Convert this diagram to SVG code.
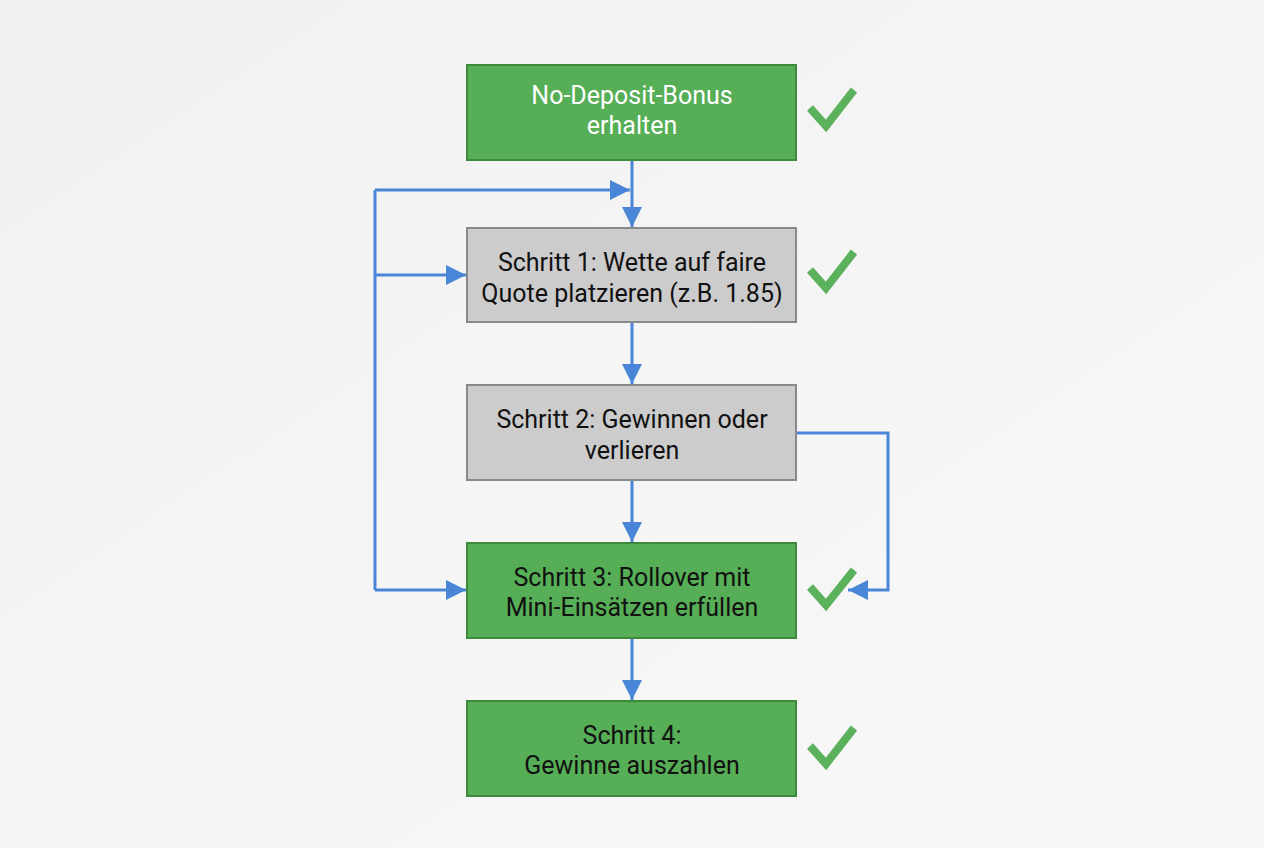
<svg xmlns="http://www.w3.org/2000/svg" width="1264" height="848" viewBox="0 0 1264 848">
<defs>
<linearGradient id="bg" x1="0" y1="0" x2="1" y2="1">
<stop offset="0" stop-color="#f0f0f0"/>
<stop offset="0.5" stop-color="#f5f5f5"/>
<stop offset="1" stop-color="#f8f8f8"/>
</linearGradient>
<marker id="arr" viewBox="0 0 20 20" refX="20" refY="10" markerWidth="20" markerHeight="20" markerUnits="userSpaceOnUse" orient="auto">
<path d="M0,0 L20,10 L0,20 Z" fill="#4a86d8"/>
</marker>
</defs>
<style>
.green{fill:#56ae56;stroke:#3d8a3d;stroke-width:2}
.gray{fill:#cccccc;stroke:#8a8a8a;stroke-width:2}
.t{font-family:Roboto,"Liberation Sans",sans-serif;font-size:25px;text-anchor:middle;fill:#111111}
.tw{fill:#ffffff}
.edge{fill:none;stroke:#4a86d8;stroke-width:3;marker-end:url(#arr)}
.line{fill:none;stroke:#4a86d8;stroke-width:3}
.chk{fill:none;stroke:#5cb25c;stroke-width:8;stroke-linecap:butt;stroke-linejoin:miter}
</style>
<rect width="1264" height="848" fill="url(#bg)"/>
<g id="connectors">
<path class="edge" d="M632,161 V227"/>
<path class="line" d="M375,590 V190"/>
<path class="edge" d="M375,190 H630"/>
<path class="edge" d="M375,275 H466"/>
<path class="edge" d="M375,590 H466"/>
<path class="edge" d="M632,323 V384"/>
<path class="edge" d="M632,481 V542"/>
<path class="edge" d="M632,639 V700"/>
<path class="edge" d="M797,433 H888 V590 H848"/>
</g>
<g id="n0">
<rect class="green" x="467" y="65" width="329" height="95"/>
<text class="t tw" x="632" y="104">No-Deposit-Bonus</text>
<text class="t tw" x="632" y="134">erhalten</text>
<polyline class="chk" points="810,108 826,126 854,90"/>
</g>
<g id="n1">
<rect class="gray" x="467" y="228" width="329" height="94"/>
<text class="t" x="632" y="271">Schritt 1: Wette auf faire</text>
<text class="t" x="632" y="302">Quote platzieren (z.B. 1.85)</text>
<polyline class="chk" points="810,270 826,288 854,252"/>
</g>
<g id="n2">
<rect class="gray" x="467" y="385" width="329" height="95"/>
<text class="t" x="632" y="428">Schritt 2: Gewinnen oder</text>
<text class="t" x="632" y="459">verlieren</text>
</g>
<g id="n3">
<rect class="green" x="467" y="543" width="329" height="95"/>
<text class="t" x="632" y="586">Schritt 3: Rollover mit</text>
<text class="t" x="632" y="616">Mini-Einsätzen erfüllen</text>
<polyline class="chk" points="810,587 826,605 854,570"/>
</g>
<g id="n4">
<rect class="green" x="467" y="701" width="329" height="95"/>
<text class="t" x="632" y="744">Schritt 4:</text>
<text class="t" x="632" y="774">Gewinne auszahlen</text>
<polyline class="chk" points="810,746 826,764 854,728"/>
</g>
</svg>
